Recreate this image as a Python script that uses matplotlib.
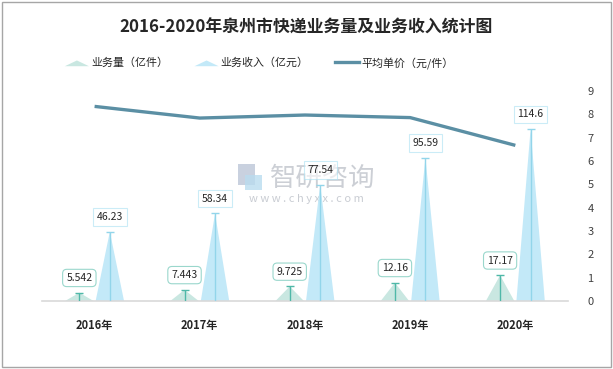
import numpy as np
import matplotlib.pyplot as plt
from matplotlib.patches import Polygon, Rectangle
from matplotlib.lines import Line2D
from matplotlib.legend_handler import HandlerPatch

plt.rcParams['font.family'] = ['Noto Sans CJK SC', 'DejaVu Sans']

# data
years = ["2016年", "2017年", "2018年", "2019年", "2020年"]
volume = [5.542, 7.443, 9.725, 12.16, 17.17]        # 业务量（亿件）
revenue = [46.23, 58.34, 77.54, 95.59, 114.6]       # 业务收入（亿元）
unit_price = [8.34, 7.84, 7.97, 7.86, 6.67]         # 平均单价（元/件）
right_ticks = list(range(0, 10))

c_vol = "#c9e7e1"
c_vol_edge = "#4fb8a8"
c_rev = "#c3e9f8"
c_rev_edge = "#92d5ea"
c_line = "#5b8fa4"

fig = plt.figure(figsize=(6.13, 3.69), dpi=100)
ax = fig.add_axes([0.0685, 0.1843, 0.858, 0.5691])
ax2 = ax.twinx()
# keep the watermark behind the plot
ax.set_zorder(2)
ax2.set_zorder(3)
ax.patch.set_visible(False)
ax2.patch.set_visible(False)

x = np.arange(len(years))
off = 0.145
hw = 0.135


def peak(axis, cx, h, color):
    tri = Polygon([[cx - hw, 0], [cx, h], [cx + hw, 0]], closed=True,
                  facecolor=color, edgecolor="none", zorder=2)
    axis.add_patch(tri)


for i in range(len(years)):
    peak(ax, x[i] - off, volume[i], c_vol)
    peak(ax, x[i] + off, revenue[i], c_rev)

# centre lines with small caps
ax.vlines(x - off, 0, volume, color=c_vol_edge, lw=1, zorder=3)
ax.plot(x - off, volume, ls="none", marker="_", ms=6, mew=1, color=c_vol_edge, zorder=3)
ax.vlines(x + off, 0, revenue, color=c_rev_edge, lw=1, zorder=3)
ax.plot(x + off, revenue, ls="none", marker="_", ms=6, mew=1, color=c_rev_edge, zorder=3)

for i in range(len(years)):
    ax.annotate(f"{volume[i]:g}", (x[i] - off, volume[i]), xytext=(0, 7),
                textcoords="offset points", ha="center", va="bottom", fontsize=7.5,
                color="#262626", zorder=5,
                bbox=dict(boxstyle="round,pad=0.35,rounding_size=0.4", fc="white",
                          ec="#8fd3c7", lw=0.8, alpha=0.9))
    ax.annotate(f"{revenue[i]:g}", (x[i] + off, revenue[i]), xytext=(0, 7),
                textcoords="offset points", ha="center", va="bottom", fontsize=7.5,
                color="#262626", zorder=5,
                bbox=dict(boxstyle="square,pad=0.35", fc="white", ec="#a9e0f2", lw=0.8,
                          alpha=0.6))

ax.set_xlim(-0.5, len(years) - 0.5)
ax.set_ylim(0, 140)
ax.set_yticks([])
ax.set_xticks(x)
ax.set_xticklabels(years, fontsize=8, fontweight="bold", color="#262626")
ax.tick_params(axis="x", length=0, pad=13)
for s in ["top", "left", "right"]:
    ax.spines[s].set_visible(False)
ax.spines["bottom"].set_color("#d9d9d9")
ax.spines["bottom"].set_linewidth(1.2)

ax2.plot(x, unit_price, color=c_line, lw=2.4, solid_capstyle="butt", zorder=4)
ax2.set_ylim(0, 9)
ax2.set_yticks(right_ticks)
ax2.tick_params(axis="y", length=0, pad=14, labelsize=8, labelcolor="#404040")
for s in ["top", "left", "right", "bottom"]:
    ax2.spines[s].set_visible(False)

# watermark (logo blocks + text)
wm = "#c3c7ce"
fig.patches.append(Rectangle((0.388, 0.500), 0.028, 0.055, transform=fig.transFigure,
                             fc="#bcc6d8", ec="none", alpha=0.8, zorder=0))
fig.patches.append(Rectangle((0.400, 0.486), 0.028, 0.040, transform=fig.transFigure,
                             fc="#b9dcef", ec="none", alpha=0.8, zorder=0))
fig.text(0.527, 0.516, "智研咨询", fontsize=19, color=wm, alpha=0.85,
         ha="center", va="center", zorder=0)
fig.text(0.5, 0.462, "w w w . c h y x x . c o m", fontsize=8, color=wm,
         alpha=0.9, ha="center", va="center", zorder=0)

fig.text(0.5, 0.924, "2016-2020年泉州市快递业务量及业务收入统计图", fontsize=12.2,
         fontweight="bold", color="#262626", ha="center", va="center")


def tri_handle(legend, orig_handle, xdescent, ydescent, width, height, fontsize):
    return Polygon([[-xdescent, -ydescent], [-xdescent + width / 2, -ydescent + height * 0.75],
                    [-xdescent + width, -ydescent]], closed=True)


handles = [Polygon([[0, 0]], facecolor=c_vol, edgecolor="none"),
           Polygon([[0, 0]], facecolor=c_rev, edgecolor="none"),
           Line2D([], [], color=c_line, lw=2.4)]
labels = ["业务量（亿件）", "业务收入（亿元）", "平均单价（元/件）"]
fig.legend(handles, labels, loc="center", bbox_to_anchor=(0.423, 0.830), ncol=3,
           frameon=False, fontsize=7.9, handlelength=2.2, handletextpad=0.2,
           columnspacing=2.4, labelcolor="#262626",
           handler_map={Polygon: HandlerPatch(patch_func=tri_handle)})

fig.patches.append(Rectangle((0.004, 0.006), 0.992, 0.988, transform=fig.transFigure,
                             fill=False, ec="#a6a6a6", lw=1))

fig.savefig("out.png", dpi=100)
